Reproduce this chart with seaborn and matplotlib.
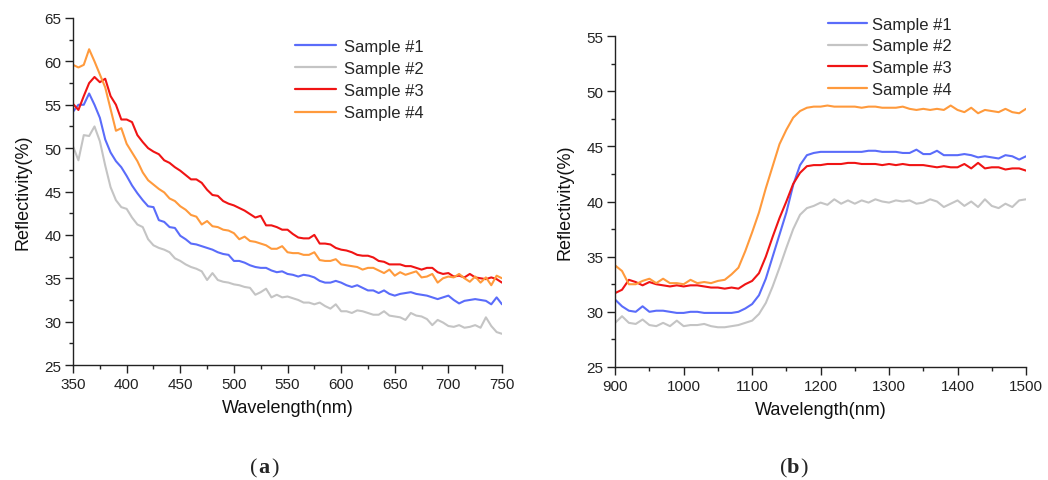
import numpy as np
import pandas as pd
import matplotlib
matplotlib.use("Agg")
import matplotlib.pyplot as plt
import seaborn as sns
from matplotlib.ticker import MultipleLocator, AutoMinorLocator
from matplotlib.lines import Line2D

sns.set_theme(style="ticks")
plt.rcParams['font.family'] = ['Liberation Sans', 'DejaVu Sans']

samples = ["Sample #1", "Sample #2", "Sample #3", "Sample #4"]
colors = {"Sample #1": "#5a6cfa", "Sample #2": "#c4c4c4",
          "Sample #3": "#f01414", "Sample #4": "#ff9a3c"}

# ---- panel (a): 350-750 nm, 5 nm step ----
wl_a = np.arange(350, 755, 5)
a_s1 = [54.2, 55.0, 55.0, 56.3, 55.0, 53.5, 51.0, 49.5, 48.5, 47.8,
        46.8, 45.7, 44.8, 44.0, 43.3, 43.2, 41.7, 41.5, 40.9, 40.8,
        39.9, 39.5, 39.0, 38.9, 38.7, 38.5, 38.3, 38.0, 37.8, 37.7,
        37.0, 37.0, 36.8, 36.5, 36.3, 36.2, 36.2, 35.9, 35.7, 35.8,
        35.5, 35.4, 35.2, 35.4, 35.3, 35.1, 34.7, 34.5, 34.5, 34.7,
        34.5, 34.2, 34.0, 34.2, 33.9, 33.6, 33.6, 33.3, 33.6, 33.2,
        33.0, 33.2, 33.3, 33.4, 33.2, 33.1, 33.0, 32.8, 32.6, 32.8,
        33.0, 32.5, 32.1, 32.4, 32.5, 32.6, 32.5, 32.4, 32.0, 32.8,
        32.0]
a_s2 = [50.2, 48.6, 51.5, 51.4, 52.5, 50.8, 48.0, 45.5, 44.0, 43.2,
        43.0, 42.0, 41.2, 40.9, 39.5, 38.8, 38.5, 38.3, 38.0, 37.3,
        37.0, 36.6, 36.3, 36.1, 35.8, 34.8, 35.6, 34.8, 34.6, 34.5,
        34.3, 34.2, 34.0, 33.9, 33.1, 33.4, 33.8, 32.8, 33.1, 32.8,
        32.9, 32.7, 32.5, 32.2, 32.2, 32.0, 32.2, 31.8, 31.5, 32.0,
        31.2, 31.2, 31.0, 31.3, 31.2, 31.0, 30.8, 30.8, 31.2, 30.7,
        30.6, 30.5, 30.2, 31.0, 30.7, 30.6, 30.3, 29.6, 30.2, 29.9,
        29.5, 29.4, 29.6, 29.3, 29.4, 29.6, 29.3, 30.5, 29.5, 28.8,
        28.6]
a_s3 = [55.1, 54.4, 56.0, 57.5, 58.2, 57.6, 58.0, 56.0, 55.0, 53.3,
        53.3, 53.0, 51.5, 50.7, 50.0, 49.6, 49.3, 48.6, 48.3, 47.8,
        47.4, 46.9, 46.4, 46.4, 46.0, 45.2, 44.6, 44.5, 43.9, 43.6,
        43.4, 43.1, 42.8, 42.4, 42.0, 42.2, 41.1, 41.1, 40.9, 40.6,
        40.6, 40.1, 39.7, 39.6, 39.6, 40.0, 39.0, 39.0, 38.9, 38.5,
        38.3, 38.2, 38.0, 37.7, 37.6, 37.6, 37.4, 37.0, 36.9, 36.6,
        36.6, 36.6, 36.4, 36.4, 36.2, 36.0, 36.2, 36.2, 35.7, 35.5,
        35.6, 35.2, 35.3, 35.1, 35.5, 35.1, 35.0, 34.9, 35.1, 34.9,
        34.5]
a_s4 = [59.6, 59.3, 59.6, 61.4, 60.0, 58.5, 57.0, 54.5, 52.0, 52.3,
        50.5, 49.5, 48.5, 47.2, 46.3, 45.8, 45.3, 44.9, 44.2, 43.9,
        43.3, 42.9, 42.3, 42.1, 41.2, 41.6, 41.0, 40.9, 40.6, 40.5,
        40.2, 39.5, 39.8, 39.3, 39.2, 39.0, 38.8, 38.4, 38.4, 38.7,
        38.0, 37.9, 37.9, 37.7, 37.7, 38.0, 37.1, 37.0, 37.0, 37.2,
        36.6, 36.5, 36.4, 36.3, 36.0, 36.2, 36.2, 35.9, 35.6, 36.0,
        35.3, 35.7, 35.4, 35.6, 35.8, 35.1, 35.2, 35.5, 34.5, 35.0,
        35.2, 35.1, 35.5, 35.0, 34.6, 35.2, 34.5, 35.1, 34.2, 35.3,
        35.0]

# ---- panel (b): 900-1500 nm, 10 nm step ----
wl_b = np.arange(900, 1510, 10)
b_s1 = [31.1, 30.5, 30.1, 30.0, 30.5, 30.0, 30.1, 30.1, 30.0, 29.9,
        29.9, 30.0, 30.0, 29.9, 29.9, 29.9, 29.9, 29.9, 30.0, 30.3,
        30.7, 31.5, 33.0, 35.0, 37.0, 39.0, 41.5, 43.3, 44.2, 44.4,
        44.5, 44.5, 44.5, 44.5, 44.5, 44.5, 44.5, 44.6, 44.6, 44.5,
        44.5, 44.5, 44.4, 44.4, 44.7, 44.3, 44.3, 44.6, 44.2, 44.2,
        44.2, 44.3, 44.2, 44.0, 44.1, 44.0, 43.9, 44.2, 44.1, 43.8,
        44.1]
b_s2 = [29.0, 29.6, 29.0, 28.9, 29.3, 28.8, 28.7, 29.0, 28.7, 29.2,
        28.7, 28.8, 28.8, 28.9, 28.7, 28.6, 28.6, 28.7, 28.8, 29.0,
        29.2, 29.8, 30.8, 32.3, 34.0, 35.8, 37.5, 38.8, 39.4, 39.6,
        39.9, 39.7, 40.2, 39.8, 40.1, 39.8, 40.1, 39.9, 40.2, 40.0,
        39.9, 40.1, 40.0, 40.1, 39.8, 39.9, 40.2, 40.0, 39.5, 39.8,
        40.1, 39.6, 40.0, 39.5, 40.2, 39.6, 39.4, 39.8, 39.5, 40.1,
        40.2]
b_s3 = [31.7, 32.0, 32.9, 32.7, 32.4, 32.7, 32.5, 32.4, 32.3, 32.4,
        32.3, 32.4, 32.4, 32.3, 32.2, 32.2, 32.1, 32.2, 32.1, 32.5,
        32.8, 33.5, 35.0, 36.8, 38.5, 40.0, 41.6, 42.6, 43.2, 43.3,
        43.3, 43.4, 43.4, 43.4, 43.5, 43.5, 43.4, 43.4, 43.4, 43.3,
        43.4, 43.3, 43.4, 43.3, 43.3, 43.3, 43.2, 43.1, 43.2, 43.1,
        43.1, 43.4, 43.0, 43.5, 43.0, 43.1, 43.1, 42.9, 43.0, 43.0,
        42.8]
b_s4 = [34.2, 33.7, 32.5, 32.5, 32.8, 33.0, 32.6, 33.0, 32.6, 32.6,
        32.5, 32.9, 32.6, 32.7, 32.6, 32.8, 32.9, 33.4, 34.0, 35.5,
        37.2, 39.0, 41.2, 43.2, 45.2, 46.5, 47.6, 48.2, 48.5, 48.6,
        48.6, 48.7, 48.6, 48.6, 48.6, 48.6, 48.5, 48.6, 48.6, 48.5,
        48.5, 48.5, 48.6, 48.4, 48.3, 48.4, 48.3, 48.4, 48.3, 48.7,
        48.3, 48.1, 48.5, 48.0, 48.3, 48.2, 48.1, 48.4, 48.1, 48.0,
        48.4]


def long_df(x, series):
    frames = []
    for name, vals in zip(samples, series):
        frames.append(pd.DataFrame({"wl": x, "R": vals, "Sample": name}))
    return pd.concat(frames, ignore_index=True)


df_a = long_df(wl_a, [a_s1, a_s2, a_s3, a_s4])
df_b = long_df(wl_b, [b_s1, b_s2, b_s3, b_s4])

fig = plt.figure(figsize=(10.48, 4.81), dpi=100)
ax1 = fig.add_axes([0.0697, 0.239, 0.4093, 0.7215])
ax2 = fig.add_axes([0.587, 0.235, 0.392, 0.688])

for ax, df, xlim, ylim, xmaj in [
        (ax1, df_a, (350, 750), (25, 65), 50),
        (ax2, df_b, (900, 1500), (25, 55), 100)]:
    sns.lineplot(data=df, x="wl", y="R", hue="Sample", palette=colors,
                 linewidth=1.5, ax=ax, legend=False)
    ax.set_xlim(*xlim)
    ax.set_ylim(*ylim)
    ax.xaxis.set_major_locator(MultipleLocator(xmaj))
    ax.yaxis.set_major_locator(MultipleLocator(5))
    ax.xaxis.set_minor_locator(AutoMinorLocator(2))
    ax.yaxis.set_minor_locator(AutoMinorLocator(2))
    ax.tick_params(which="major", direction="out", length=5.5, width=1,
                   labelsize=11, colors="#222222", pad=3)
    ax.tick_params(which="minor", direction="out", length=3, width=1,
                   colors="#222222")
    for side in ["top", "right"]:
        ax.spines[side].set_visible(False)
    for side in ["left", "bottom"]:
        ax.spines[side].set_linewidth(1.0)
        ax.spines[side].set_color("#222222")
    ax.set_xlabel("Wavelength(nm)", fontsize=13, color="#111111", labelpad=6)
    ax.set_ylabel("Reflectivity(%)", fontsize=13, color="#111111", labelpad=9)

handles = [Line2D([0], [0], color=colors[s], lw=1.6) for s in samples]
fig.legend(handles, samples, loc="upper left",
           bbox_to_anchor=(0.275, 0.931), frameon=False, fontsize=12,
           handlelength=2.45, labelspacing=0.43, handletextpad=0.5,
           borderaxespad=0)
fig.legend(handles, samples, loc="upper left",
           bbox_to_anchor=(0.7835, 0.977), frameon=False, fontsize=12,
           handlelength=2.35, labelspacing=0.4, handletextpad=0.32,
           borderaxespad=0)

for xa, letter in [(0.246, "a"), (0.751, "b")]:
    fig.text(xa, 0.016, "(", fontsize=16, family="Liberation Serif",
             ha="right", va="baseline")
    fig.text(xa, 0.016, letter, fontsize=16, family="Liberation Serif",
             weight="bold", ha="left", va="baseline")
    fig.text(xa + 0.0125, 0.016, ")", fontsize=16, family="Liberation Serif",
             ha="left", va="baseline")

fig.savefig("out.png", dpi=100)
